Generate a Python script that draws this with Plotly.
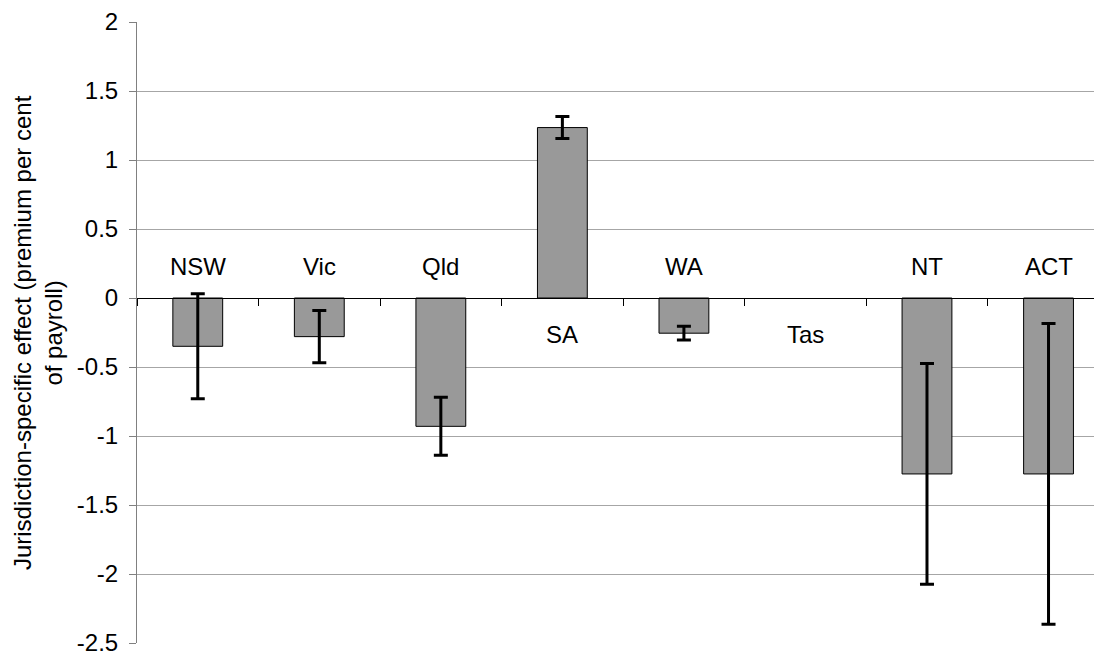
import plotly.graph_objects as go

categories = ["NSW", "Vic", "Qld", "SA", "WA", "Tas", "NT", "ACT"]
effects = [-0.35, -0.28, -0.93, 1.235, -0.255, None, -1.275, -1.275]
errors = [0.38, 0.19, 0.21, 0.08, 0.05, None, 0.80, 1.09]
y_tick_vals = [-2.5, -2, -1.5, -1, -0.5, 0, 0.5, 1, 1.5, 2]
y_tick_text = ["-2.5", "-2", "-1.5", "-1", "-0.5", "0", "0.5", "1", "1.5", "2"]
y_title = "Jurisdiction-specific effect (premium per cent<br>of payroll)"

FONT = "Arial, Liberation Sans, sans-serif"
FS = 24
ymin, ymax = -2.5, 2.0

fig = go.Figure()
fig.add_trace(go.Bar(
    x=categories, y=effects,
    marker=dict(color="#999999", line=dict(color="black", width=1)),
    error_y=dict(type="data", array=errors, visible=True,
                 color="black", thickness=3, width=7),
    width=0.41,
))

# category labels: above the axis for negative bars, below otherwise
for c, v in zip(categories, effects):
    above = v is not None and v < 0
    fig.add_annotation(
        x=c, y=0, xref="x", yref="y", text=c, showarrow=False,
        yshift=32 if above else -36,
        font=dict(family=FONT, size=FS, color="black"),
    )

# y-axis title
fig.add_annotation(
    xref="paper", yref="paper", x=-0.103, y=0.500,
    xanchor="center", yanchor="middle",
    text=y_title, textangle=-90, showarrow=False,
    font=dict(family=FONT, size=FS, color="black"),
)

zero_pos = (0 - ymin) / (ymax - ymin)

fig.update_layout(
    width=1094, height=648,
    margin=dict(l=129, r=0, t=13, b=7),
    paper_bgcolor="white", plot_bgcolor="white",
    showlegend=False,
    font=dict(family=FONT, size=FS, color="black"),
    xaxis=dict(
        type="category", range=[-0.5, 7.44],
        anchor="free", position=zero_pos,
        showline=True, linecolor="black", linewidth=1,
        ticks="outside", ticklen=7, tickcolor="black", tickwidth=1,
        tickson="boundaries", showticklabels=False,
        showgrid=False, zeroline=False,
    ),
    yaxis=dict(
        range=[ymin, ymax], tickvals=y_tick_vals, ticktext=y_tick_text,
        showline=True, linecolor="#808080", linewidth=1,
        ticks="outside", ticklen=7, tickcolor="#808080",
        ticklabelstandoff=6, ticklabeloverflow="allow",
        showgrid=True, gridcolor="#a6a6a6", gridwidth=1,
        zeroline=True, zerolinecolor="black", zerolinewidth=1,
        tickfont=dict(family=FONT, size=FS, color="black"),
    ),
)

fig.write_html("out.html")
